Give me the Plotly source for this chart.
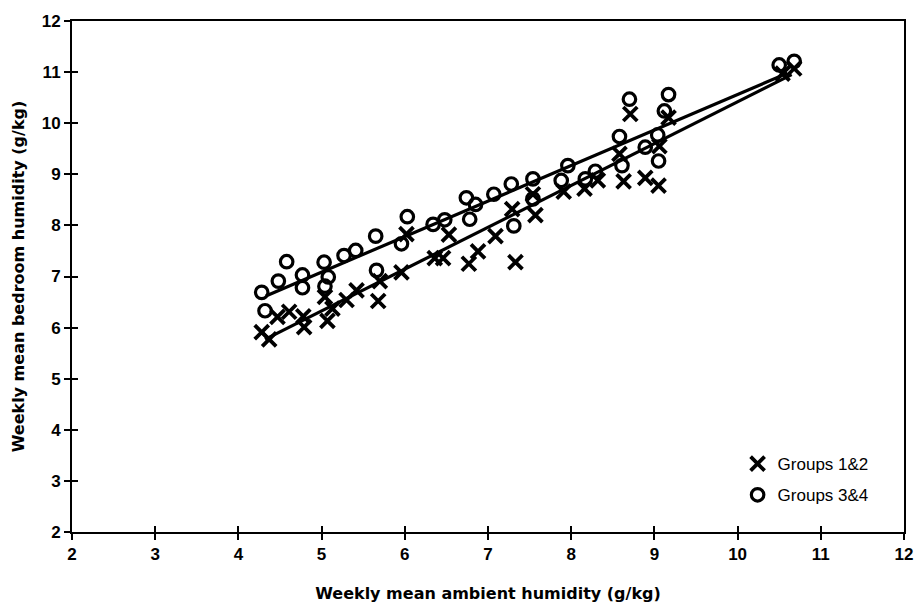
import plotly.graph_objects as go

# Groups 1&2 (crosses)
g12_x = [4.28, 4.37, 4.47, 4.61, 4.79, 4.78, 5.04, 5.07, 5.13, 5.30, 5.42, 5.68, 5.70,
         5.96, 6.02, 6.36, 6.46, 6.53, 6.77, 6.88, 7.09, 7.29, 7.33, 7.57, 7.54, 7.91,
         8.16, 8.32, 8.58, 8.63, 8.71, 8.89, 9.05, 9.06, 9.17, 10.54, 10.68]
g12_y = [5.91, 5.77, 6.21, 6.31, 6.01, 6.22, 6.60, 6.13, 6.37, 6.54, 6.73, 6.52, 6.91,
         7.08, 7.83, 7.36, 7.36, 7.82, 7.25, 7.49, 7.79, 8.32, 7.28, 8.20, 8.61, 8.66,
         8.72, 8.88, 9.40, 8.86, 10.18, 8.93, 8.78, 9.55, 10.11, 10.97, 11.07]

# Groups 3&4 (circles)
g34_x = [4.28, 4.32, 4.48, 4.58, 4.77, 4.77, 5.03, 5.08, 5.04, 5.27, 5.41, 5.65, 5.66,
         5.96, 6.03, 6.34, 6.48, 6.74, 6.78, 6.85, 7.07, 7.28, 7.31, 7.54, 7.54, 7.88,
         7.96, 8.17, 8.29, 8.58, 8.61, 8.70, 8.89, 9.04, 9.05, 9.12, 9.17, 10.50, 10.68]
g34_y = [6.69, 6.33, 6.91, 7.29, 7.03, 6.78, 7.28, 6.99, 6.81, 7.41, 7.51, 7.79, 7.12,
         7.64, 8.17, 8.02, 8.11, 8.54, 8.12, 8.41, 8.61, 8.81, 7.99, 8.91, 8.52, 8.88,
         9.17, 8.91, 9.06, 9.74, 9.17, 10.47, 9.53, 9.77, 9.26, 10.24, 10.56, 11.14, 11.21]

# Fitted lines (endpoints)
fit12_x = [4.32, 10.65]
fit12_y = [5.77, 10.95]
fit34_x = [4.33, 10.60]
fit34_y = [6.62, 10.98]

tick_vals = list(range(2, 13))
tick_text = [str(v) for v in tick_vals]

FONT = "Liberation Sans, Arial, sans-serif"
TFONT = "DejaVu Sans, Liberation Sans, sans-serif"

fig = go.Figure()
fig.add_trace(go.Scatter(x=fit12_x, y=fit12_y, mode="lines",
                         line=dict(color="black", width=3.2), showlegend=False))
fig.add_trace(go.Scatter(x=fit34_x, y=fit34_y, mode="lines",
                         line=dict(color="black", width=3.2), showlegend=False))
fig.add_trace(go.Scatter(x=g12_x, y=g12_y, mode="markers", name="Groups 1&2",
                         legendgroup="a",
                         marker=dict(symbol="x-thin-open", size=14, color="black",
                                     line=dict(color="black", width=3.8))))
fig.add_trace(go.Scatter(x=g34_x, y=g34_y, mode="markers", name="Groups 3&4",
                         legendgroup="b",
                         marker=dict(symbol="circle-open", size=12.5, color="black",
                                     line=dict(color="black", width=3.2))))

axis_common = dict(range=[2, 12], tickvals=tick_vals, ticktext=tick_text,
                   showgrid=False, zeroline=False, showline=True, linecolor="black",
                   linewidth=2, ticks="outside", ticklen=6, tickwidth=1.5,
                   tickcolor="black",
                   tickfont=dict(family=FONT, size=17, color="black", weight="bold"))

fig.update_layout(
    width=918, height=604,
    margin=dict(l=72, r=14, t=15, b=72),
    paper_bgcolor="white", plot_bgcolor="white",
    xaxis=dict(**axis_common, mirror=True, automargin=False,
               title=dict(text="Weekly mean ambient humidity (g/kg)", standoff=24,
                          font=dict(family=TFONT, size=16, color="black", weight="bold"))),
    yaxis=dict(**axis_common, mirror=True, automargin=True,
               title=dict(text="Weekly mean bedroom humidity (g/kg)", standoff=13,
                          font=dict(family=TFONT, size=16, color="black", weight="bold"))),
    xaxis2=dict(range=[2, 12], tickvals=tick_vals, showticklabels=False, showgrid=False,
                zeroline=False, ticks="inside", ticklen=6, tickwidth=1.5, tickcolor="black",
                overlaying="x", side="bottom", anchor="y", automargin=False),
    yaxis2=dict(range=[2, 12], tickvals=tick_vals, showticklabels=False, showgrid=False,
                zeroline=False, ticks="inside", ticklen=6, tickwidth=1.5, tickcolor="black",
                overlaying="y", side="left", anchor="x", automargin=False),
    legend=dict(x=0.80, y=0.168, xanchor="left", yanchor="top",
                font=dict(family=FONT, size=17, color="black"),
                bgcolor="rgba(0,0,0,0)", itemwidth=30, tracegroupgap=6,
                traceorder="grouped"),
    showlegend=True,
)
# dummy trace to activate the secondary axes for inside ticks
fig.add_trace(go.Scatter(x=[None], y=[None], xaxis="x2", yaxis="y2",
                         showlegend=False, hoverinfo="skip"))

fig.write_html("out.html")
